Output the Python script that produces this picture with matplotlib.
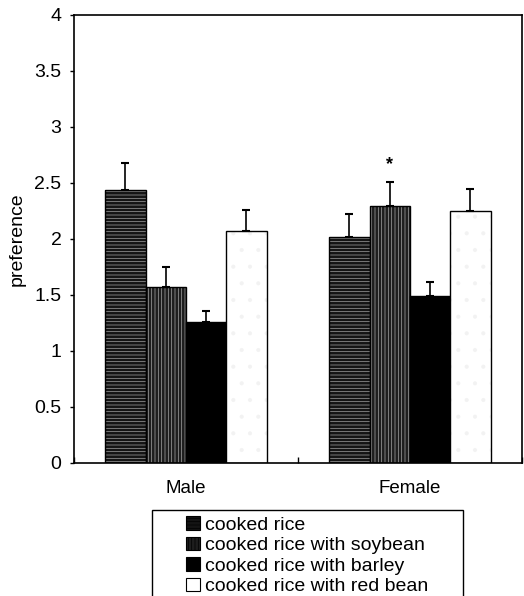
import numpy as np
import matplotlib.pyplot as plt
from matplotlib.patches import Rectangle, Patch

plt.rcParams['font.family'] = ['Liberation Sans', 'DejaVu Sans']
plt.rcParams['hatch.linewidth'] = 0.5

groups = ['Male', 'Female']
series = ['cooked rice', 'cooked rice with soybean',
          'cooked rice with barley', 'cooked rice with red bean']
means = {
    'cooked rice': [2.44, 2.02],
    'cooked rice with soybean': [1.57, 2.29],
    'cooked rice with barley': [1.26, 1.49],
    'cooked rice with red bean': [2.07, 2.25],
}
errors = {
    'cooked rice': [0.24, 0.20],
    'cooked rice with soybean': [0.18, 0.22],
    'cooked rice with barley': [0.10, 0.13],
    'cooked rice with red bean': [0.19, 0.20],
}
yticks = [0, 0.5, 1, 1.5, 2, 2.5, 3, 3.5, 4]

styles = [
    dict(facecolor='#141414', hatch='-----', edgecolor='#a0a0a0'),
    dict(facecolor='#1e1e1e', hatch='|||||', edgecolor='#a8a8a8'),
    dict(facecolor='black', hatch=None, edgecolor='black'),
    dict(facecolor='white', hatch='.', edgecolor='#f2f2f2'),
]

fig = plt.figure(figsize=(5.24, 5.96), dpi=100)
ax = fig.add_axes([0.141, 0.2232, 0.855, 0.7517])

centers = np.array([0.5, 1.5])
width = 0.18
for i, s in enumerate(series):
    x = centers + (i - 1.5) * width
    st = styles[i]
    ax.bar(x, means[s], width=width, facecolor=st['facecolor'],
           hatch=st['hatch'], edgecolor=st['edgecolor'], linewidth=0)
    ax.bar(x, means[s], width=width, facecolor='none', edgecolor='black',
           linewidth=1.0)
    ax.errorbar(x, np.array(means[s]), yerr=[np.zeros(2), errors[s]],
                fmt='none', ecolor='black', elinewidth=1.2, capsize=3,
                capthick=1.5)

# significance mark over female soybean bar
ax.text(centers[1] - 0.5 * width, 2.66, '*', ha='center', va='center',
        fontsize=13, fontweight='bold')

ax.set_xlim(0, 2)
ax.set_ylim(0, 4)
ax.set_yticks(yticks)
ax.set_yticklabels([f'{t:g}' for t in yticks], fontsize=14)
ax.tick_params(axis='y', direction='out', length=3, width=1, pad=6)
ax.set_xticks([0, 1, 2])
ax.set_xticklabels([])
ax.tick_params(axis='x', which='major', direction='in', length=4, width=1)
ax.set_xticks(centers, minor=True)
ax.set_xticklabels(groups, minor=True, fontsize=13.5)
ax.tick_params(axis='x', which='minor', length=0, pad=12)
ax.set_ylabel('preference', fontsize=14, labelpad=6)
for sp in ax.spines.values():
    sp.set_linewidth(1.2)

# legend boxes: keep hatching only on the dark swatches
handles = [Patch(facecolor=st['facecolor'],
                 hatch=st['hatch'] if st['facecolor'] != 'white' else None,
                 edgecolor='black', linewidth=0.8) for st in styles]
fig.patches.append(Rectangle((152 / 524, -0.02), (463 - 152) / 524,
                             (596 - 510) / 596 + 0.02,
                             transform=fig.transFigure, facecolor='none',
                             edgecolor='black', linewidth=1.0))
fig.legend(handles, series, loc='upper left',
           bbox_to_anchor=(186 / 524, 1 - 516 / 596), frameon=False,
           fontsize=14, handlelength=0.7, handleheight=0.7,
           handletextpad=0.3, labelspacing=0.15, borderpad=0,
           borderaxespad=0)

fig.savefig('out.png', dpi=100)
